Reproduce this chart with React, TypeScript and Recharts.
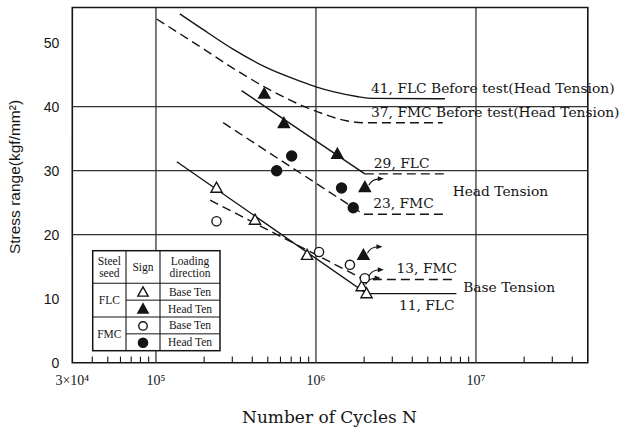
import React from "react";
import {
  ComposedChart,
  Line,
  Scatter,
  XAxis,
  YAxis,
  ReferenceLine,
  ReferenceArea,
} from "recharts";

// ---------- axes ----------
const xMajorTicks = [3e4, 1e5, 1e6, 1e7];
const xTickLabels = ["3×10⁴", "10⁵", "10⁶", "10⁷"];
const xMinorTicks = [
  4e4, 5e4, 6e4, 7e4, 8e4, 9e4,
  2e5, 3e5, 4e5, 5e5, 6e5, 7e5, 8e5, 9e5,
  2e6, 3e6, 4e6, 5e6, 6e6, 7e6, 8e6, 9e6,
  2e7, 3e7, 4e7,
];
const yTicks = [0, 10, 20, 30, 40, 50];
const xGridLines = [1e5, 1e6, 1e7];
const yGridLines = [20, 30, 40];

// ---------- S-N curves ----------
const flcBeforeTest41 = [
  { x: 1.41e5, y: 54.5 },
  { x: 1.88e5, y: 52.4 },
  { x: 3.03e5, y: 49.0 },
  { x: 4.92e5, y: 46.1 },
  { x: 7.94e5, y: 44.0 },
  { x: 1.0e6, y: 43.1 },
  { x: 1.28e6, y: 42.35 },
  { x: 1.8e6, y: 41.6 },
  { x: 2.3e6, y: 41.3 },
  { x: 6.4e6, y: 41.25 },
];
const fmcBeforeTest37 = [
  { x: 1.01e5, y: 53.7 },
  { x: 1.88e5, y: 49.4 },
  { x: 3.04e5, y: 46.0 },
  { x: 4.92e5, y: 42.9 },
  { x: 1.0e6, y: 39.3 },
  { x: 1.55e6, y: 37.8 },
  { x: 1.95e6, y: 37.5 },
  { x: 6.2e6, y: 37.5 },
];
const flcHead29 = [
  { x: 3.43e5, y: 42.5 },
  { x: 2.02e6, y: 29.5 },
];
const flcHead29Limit = [
  { x: 2.02e6, y: 29.5 },
  { x: 6.57e6, y: 29.5 },
];
const fmcHead23 = [
  { x: 2.63e5, y: 37.5 },
  { x: 1.98e6, y: 23.2 },
  { x: 6.57e6, y: 23.2 },
];
const fmcBase13 = [
  { x: 2.18e5, y: 25.4 },
  { x: 2.0e6, y: 13.0 },
  { x: 7.55e6, y: 13.0 },
];
const flcBase11 = [
  { x: 1.35e5, y: 31.4 },
  { x: 2.07e6, y: 10.8 },
  { x: 7.55e6, y: 10.8 },
];

// ---------- test results ----------
const flcBaseTen = [
  { x: 2.39e5, y: 27.3 },
  { x: 4.16e5, y: 22.3 },
  { x: 8.8e5, y: 16.8 },
  { x: 1.93e6, y: 11.9, runout: true },
  { x: 2.07e6, y: 10.8 },
];
const flcHeadTen = [
  { x: 4.75e5, y: 42.0 },
  { x: 6.3e5, y: 37.4 },
  { x: 1.36e6, y: 32.6 },
  { x: 2.02e6, y: 27.4, runout: true },
  { x: 1.98e6, y: 16.8, runout: true },
];
const fmcBaseTen = [
  { x: 2.39e5, y: 22.1 },
  { x: 1.045e6, y: 17.3 },
  { x: 1.63e6, y: 15.3 },
  { x: 2.02e6, y: 13.2, runout: true },
];
const fmcHeadTen = [
  { x: 5.68e5, y: 30.0 },
  { x: 7.05e5, y: 32.3 },
  { x: 1.445e6, y: 27.3 },
  { x: 1.71e6, y: 24.2 },
];

// ---------- curve annotations (anchor in data coordinates) ----------
const annotations = [
  { x: 2.21e6, y: 42.9, text: "41, FLC Before test(Head Tension)" },
  { x: 2.21e6, y: 39.2, text: "37, FMC Before test(Head Tension)" },
  { x: 2.3e6, y: 31.2, text: "29, FLC" },
  { x: 7.15e6, y: 26.8, text: "Head Tension" },
  { x: 2.28e6, y: 24.9, text: "23, FMC" },
  { x: 3.19e6, y: 14.75, text: "13, FMC" },
  { x: 8.32e6, y: 11.8, text: "Base Tension" },
  { x: 3.3e6, y: 9.0, text: "11, FLC" },
];

// ---------- legend table ----------
const legendHeader = [["Steel", "seed"], ["Sign"], ["Loading", "direction"]];
const legendSteels = ["FLC", "FMC"];
const legendRows = [
  { marker: "openTriangle", text: "Base Ten" },
  { marker: "filledTriangle", text: "Head Ten" },
  { marker: "openCircle", text: "Base Ten" },
  { marker: "filledCircle", text: "Head Ten" },
];

const INK = "#151515";
const SERIF = "'DejaVu Serif', 'Liberation Serif', serif";
const TIMES = "'Liberation Serif', 'DejaVu Serif', serif";
const SANS = "'Liberation Sans', Arial, sans-serif";

function markerGlyph(kind: string, cx: number, cy: number, s = 1) {
  if (kind === "openTriangle" || kind === "filledTriangle") {
    const w = 5.6 * s;
    const pts = `${cx},${cy - 5.8 * s} ${cx - w},${cy + 4.2 * s} ${cx + w},${cy + 4.2 * s}`;
    return (
      <polygon
        points={pts}
        fill={kind === "filledTriangle" ? INK : "#fff"}
        stroke={INK}
        strokeWidth={1.4}
        strokeLinejoin="miter"
      />
    );
  }
  return (
    <circle
      cx={cx}
      cy={cy}
      r={(kind === "filledCircle" ? 5 : 4.6) * s}
      fill={kind === "filledCircle" ? INK : "#fff"}
      stroke={INK}
      strokeWidth={1.4}
    />
  );
}

function makeShape(kind: string) {
  return (props: any) => {
    const { cx, cy, payload } = props;
    if (cx == null || cy == null) return <g />;
    return (
      <g>
        {payload && payload.runout ? (
          <g>
            <path
              d={`M${cx + 4},${cy - 2} Q${cx + 7},${cy - 8.5} ${cx + 15},${cy - 8.5}`}
              fill="none"
              stroke={INK}
              strokeWidth={1.1}
            />
            <path
              d={`M${cx + 13},${cy - 11} L${cx + 19},${cy - 8.5} L${cx + 13},${cy - 6} Z`}
              fill={INK}
            />
          </g>
        ) : null}
        {markerGlyph(kind, cx, cy)}
      </g>
    );
  };
}

const annotationShape = (props: any) => {
  const { cx, cy, payload } = props;
  if (cx == null || cy == null) return <g />;
  return (
    <text
      x={cx}
      y={cy}
      dominantBaseline="central"
      textAnchor="start"
      fontFamily={SERIF}
      fontSize={13.8}
      fill={INK}
    >
      {payload.text}
    </text>
  );
};

const xTickFormatter = (v: number) => {
  const i = xMajorTicks.indexOf(v);
  return i >= 0 ? xTickLabels[i] : "";
};

function LegendTable() {
  const L = 92.7, T = 250.7, R = 220, B = 350.7;
  const c1 = 126, c2 = 160;
  const hB = 283.3;
  const rowH = (B - hB) / 4;
  const colCenters = [(L + c1) / 2, (c1 + c2) / 2, (c2 + R) / 2];
  return (
    <g>
      <rect x={L} y={T} width={R - L} height={B - T} fill="#fff" stroke={INK} strokeWidth={1.5} />
      <line x1={c1} y1={T} x2={c1} y2={B} stroke={INK} strokeWidth={1.1} />
      <line x1={c2} y1={T} x2={c2} y2={B} stroke={INK} strokeWidth={1.1} />
      <line x1={L} y1={hB} x2={R} y2={hB} stroke={INK} strokeWidth={1.1} />
      <line x1={L} y1={hB + 2 * rowH} x2={R} y2={hB + 2 * rowH} stroke={INK} strokeWidth={1.1} />
      <line x1={c1} y1={hB + rowH} x2={R} y2={hB + rowH} stroke={INK} strokeWidth={1} />
      <line x1={c1} y1={hB + 3 * rowH} x2={R} y2={hB + 3 * rowH} stroke={INK} strokeWidth={1} />
      {legendHeader.map((lines, i) => (
        <text
          key={"h" + i}
          x={colCenters[i]}
          textAnchor="middle"
          fontFamily={TIMES}
          fontSize={11.5}
          fill={INK}
        >
          {lines.map((ln, j) => (
            <tspan
              key={j}
              x={colCenters[i]}
              y={(T + hB) / 2 + (j - (lines.length - 1) / 2) * 11.5}
              dominantBaseline="central"
            >
              {ln}
            </tspan>
          ))}
        </text>
      ))}
      {legendSteels.map((s, i) => (
        <text
          key={"s" + i}
          x={colCenters[0]}
          y={hB + rowH * (2 * i + 1)}
          textAnchor="middle"
          dominantBaseline="central"
          fontFamily={TIMES}
          fontSize={11.5}
          fill={INK}
        >
          {s}
        </text>
      ))}
      {legendRows.map((r, i) => (
        <g key={"r" + i}>
          {markerGlyph(r.marker, colCenters[1], hB + rowH * (i + 0.5) + 0.5, 0.92)}
          <text
            x={colCenters[2]}
            y={hB + rowH * (i + 0.5)}
            textAnchor="middle"
            dominantBaseline="central"
            fontFamily={TIMES}
            fontSize={11.5}
            fill={INK}
          >
            {r.text}
          </text>
        </g>
      ))}
    </g>
  );
}

export default function App() {
  const dash = "9 5";
  return (
    <div style={{ position: "absolute", left: 0, top: 0, width: 622, height: 427, background: "#fff" }}>
      <ComposedChart
        width={622}
        height={427}
        margin={{ top: 7.5, right: 34.2, bottom: 34.3, left: 12.3 }}
      >
        <XAxis
          type="number"
          dataKey="x"
          scale="log"
          domain={[3e4, 5e7]}
          ticks={xMajorTicks}
          interval={0}
          tickFormatter={xTickFormatter}
          axisLine={false}
          tickLine={false}
          tickSize={0}
          tickMargin={12}
          height={30}
          tick={{ fontFamily: TIMES, fontSize: 14, fill: INK }}
        />
        <YAxis
          type="number"
          dataKey="y"
          domain={[0, 55.5]}
          ticks={yTicks}
          interval={0}
          axisLine={false}
          tickLine={false}
          tickSize={0}
          tickMargin={13}
          width={60}
          tick={{ fontFamily: SANS, fontSize: 14, fill: INK }}
        />
        {xGridLines.map((v) => (
          <ReferenceLine key={"gx" + v} x={v} stroke="#333" strokeWidth={1.3} />
        ))}
        {yGridLines.map((v) => (
          <ReferenceLine key={"gy" + v} y={v} stroke="#333" strokeWidth={1.3} />
        ))}
        {xMinorTicks.map((v) => (
          <ReferenceLine
            key={"mt" + v}
            segment={[{ x: v, y: 0 }, { x: v, y: 0.95 }]}
            stroke={INK}
            strokeWidth={1.1}
          />
        ))}
        <ReferenceArea
          x1={3e4}
          x2={5e7}
          y1={0}
          y2={55.5}
          fill="none"
          fillOpacity={0}
          stroke={INK}
          strokeWidth={1.6}
        />

        <Line data={flcBeforeTest41} dataKey="y" type="monotone" stroke={INK} strokeWidth={1.4} dot={false} activeDot={false} isAnimationActive={false} />
        <Line data={fmcBeforeTest37} dataKey="y" type="monotone" stroke={INK} strokeWidth={1.4} strokeDasharray={dash} dot={false} activeDot={false} isAnimationActive={false} />
        <Line data={flcHead29} dataKey="y" type="linear" stroke={INK} strokeWidth={1.4} dot={false} activeDot={false} isAnimationActive={false} />
        <Line data={flcHead29Limit} dataKey="y" type="linear" stroke={INK} strokeWidth={1.4} strokeDasharray={dash} dot={false} activeDot={false} isAnimationActive={false} />
        <Line data={fmcHead23} dataKey="y" type="linear" stroke={INK} strokeWidth={1.4} strokeDasharray={dash} dot={false} activeDot={false} isAnimationActive={false} />
        <Line data={fmcBase13} dataKey="y" type="linear" stroke={INK} strokeWidth={1.4} strokeDasharray={dash} dot={false} activeDot={false} isAnimationActive={false} />
        <Line data={flcBase11} dataKey="y" type="linear" stroke={INK} strokeWidth={1.4} dot={false} activeDot={false} isAnimationActive={false} />

        <Scatter data={flcBaseTen} shape={makeShape("openTriangle")} isAnimationActive={false} />
        <Scatter data={flcHeadTen} shape={makeShape("filledTriangle")} isAnimationActive={false} />
        <Scatter data={fmcBaseTen} shape={makeShape("openCircle")} isAnimationActive={false} />
        <Scatter data={fmcHeadTen} shape={makeShape("filledCircle")} isAnimationActive={false} />
        <Scatter data={annotations} shape={annotationShape} isAnimationActive={false} />
      </ComposedChart>
      <svg
        width={622}
        height={427}
        style={{ position: "absolute", left: 0, top: 0, pointerEvents: "none" }}
      >
        <text
          transform="translate(14,177) rotate(-90)"
          textAnchor="middle"
          dominantBaseline="central"
          fontFamily={SANS}
          fontSize={15.5}
          fill={INK}
        >
          Stress range(kgf/mm²)
        </text>
        <text
          x={329.5}
          y={417}
          textAnchor="middle"
          dominantBaseline="central"
          fontFamily={SERIF}
          fontSize={17}
          fill={INK}
        >
          Number of Cycles N
        </text>
        <LegendTable />
      </svg>
    </div>
  );
}
